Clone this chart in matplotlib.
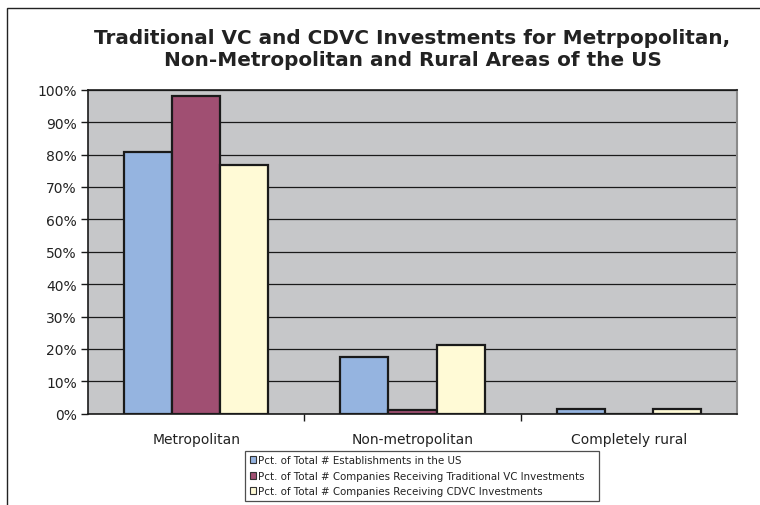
import numpy as np
import matplotlib
matplotlib.use('Agg')
import matplotlib.pyplot as plt
from matplotlib.patches import Patch, Rectangle

# values (percent)
areas = ["Metropolitan", "Non-metropolitan", "Completely rural"]
establishments = [80.8, 17.6, 1.4]
traditional_vc = [98.1, 1.1, 0.0]
cdvc = [76.8, 21.2, 1.4]

series_names = ["Pct. of Total # Establishments in the US",
                "Pct. of Total # Companies Receiving Traditional VC Investments",
                "Pct. of Total # Companies Receiving CDVC Investments"]
colors = ["#95B4E0", "#A04F72", "#FFFAD6"]

plt.rcParams['font.family'] = ['DejaVu Sans']

fig = plt.figure(figsize=(7.6, 5.06), dpi=100)
W, H = 760.0, 506.0

# outer chart frame (runs past right/bottom edge like the cropped original)
fig.patches.append(Rectangle((7 / W, -0.05), 1.0, 1 - 9 / H + 0.05,
                             transform=fig.transFigure, fill=False,
                             edgecolor="#222222", linewidth=1.0))

ax = fig.add_axes([88 / W, 1 - 414.7 / H, (737 - 88) / W, (414.7 - 90.7) / H])
ax.set_facecolor("#C6C7C9")

x = np.arange(len(areas))
w = 1 / 4.5
for i, (vals, c) in enumerate(zip([establishments, traditional_vc, cdvc], colors)):
    ax.bar(x + (i - 1) * w, vals, width=w, color=c, edgecolor="#1a1a1a",
           linewidth=1.6, label=series_names[i], zorder=3)

ax.set_xlim(-0.5, 2.5)
ax.set_ylim(0, 100)
ax.set_yticks(np.arange(0, 101, 10))
ax.set_yticklabels(["%d%%" % v for v in range(0, 101, 10)], fontsize=10, color="#222222")
ax.yaxis.grid(True, color="#1a1a1a", linewidth=0.9, zorder=1)
ax.set_axisbelow(True)
ax.tick_params(axis='y', length=5, width=1, color="#1a1a1a", pad=3)

ax.set_xticks(x)
ax.set_xticklabels(areas, fontsize=10, color="#222222")
ax.tick_params(axis='x', which='major', length=0, pad=13)
ax.set_xticks([0.5, 1.5], minor=True)
ax.tick_params(axis='x', which='minor', length=5, width=1, color="#1a1a1a")

for s in ["left", "bottom", "top"]:
    ax.spines[s].set_color("#1a1a1a")
    ax.spines[s].set_linewidth(1.2)
ax.spines["right"].set_color("#8a8a8a")
ax.spines["right"].set_linewidth(1.5)

fig.text(412.5 / W, 1 - 50 / H,
         "Traditional VC and CDVC Investments for Metrpopolitan,\nNon-Metropolitan and Rural Areas of the US",
         ha="center", va="center", fontsize=14.4, fontweight="bold", color="#222222",
         linespacing=1.2)

handles = [Patch(facecolor=c, edgecolor="#333333", linewidth=0.8) for c in colors]
leg = fig.legend(handles, series_names, loc="upper left",
                 bbox_to_anchor=(245 / W, 1 - 504 / H, (599 - 245) / W, (504 - 451.5) / H),
                 mode="expand", fontsize=7.4, frameon=True, fancybox=False,
                 edgecolor="#222222", handlelength=0.65, handleheight=0.65,
                 handletextpad=0.15, labelspacing=0.55, borderpad=0.45,
                 borderaxespad=0)
leg.get_frame().set_linewidth(0.9)
for t in leg.get_texts():
    t.set_color("#222222")

fig.savefig("out.png", dpi=100)
